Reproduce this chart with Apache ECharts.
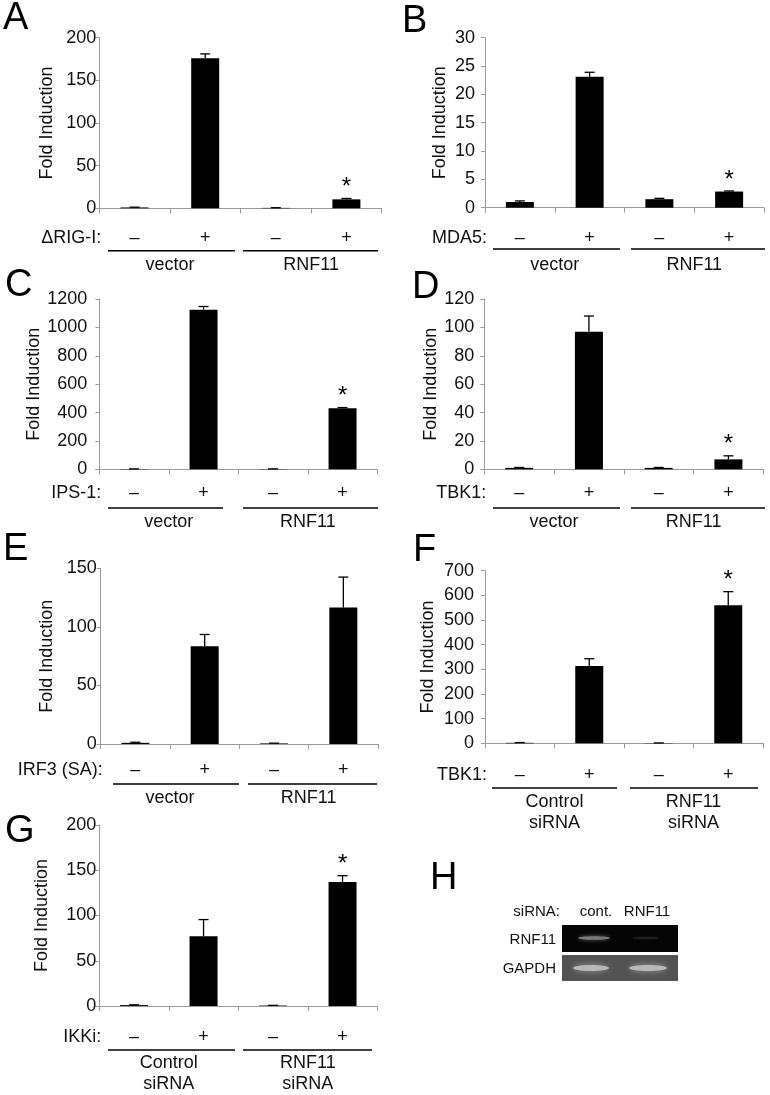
<!DOCTYPE html>
<html><head><meta charset="utf-8">
<script src="https://cdn.jsdelivr.net/npm/echarts@6/dist/echarts.min.js"></script>
<style>html,body{margin:0;padding:0;background:#fff}#c{width:770px;height:1095px}</style>
</head><body><div id="c"></div>
<script>
// ---------- data ----------
const conditionTicks = ["–", "+", "–", "+"];
const groupsVector = ["vector", "RNF11"];
const groupsSiRNA = ["Control\nsiRNA", "RNF11\nsiRNA"];
const yTitle = "Fold Induction";

const panelLetters = ["A", "B", "C", "D", "E", "F", "G"];
const treatmentLabels = ["ΔRIG-I:", "MDA5:", "IPS-1:", "TBK1:", "IRF3 (SA):", "TBK1:", "IKKi:"];

const aValues = [1, 176, 0.5, 10.5];   const aErrors = [0.3, 5, 0.2, 1];     const aSig = [0, 0, 0, 1];
const bValues = [1.0, 23.1, 1.5, 2.85]; const bErrors = [0.2, 0.8, 0.15, 0.1]; const bSig = [0, 0, 0, 1];
const cValues = [2, 1125, 2, 430];     const cErrors = [1, 22, 1, 5];        const cSig = [0, 0, 0, 1];
const dValues = [1, 97, 1, 7];         const dErrors = [0.3, 11, 0.3, 2.5];  const dSig = [0, 0, 0, 1];
const eValues = [1, 83.5, 0.5, 116.5]; const eErrors = [0.5, 10, 0.2, 26];   const eSig = [0, 0, 0, 0];
const fValues = [2, 313, 1, 560];      const fErrors = [1, 30, 0.5, 55];     const fSig = [0, 0, 0, 1];
const gValues = [1, 77, 0.5, 137];     const gErrors = [0.3, 18.5, 0.2, 7];  const gSig = [0, 0, 0, 1];

const yMaxes = [200, 30, 1200, 120, 150, 700, 200];
const ySteps = [50, 5, 200, 20, 50, 100, 50];

const gelLanes = ["cont.", "RNF11"];
const gelRows = ["RNF11", "GAPDH"];

// ---------- layout (positions/styles) ----------
const FONT = "'Liberation Sans', Arial, Helvetica, sans-serif";
const TXT = '#111';
const AXC = '#9a9a9a';
const FS = 18;
const layout = [
  {left: 99.3, top: 37.7, width: 282.4, height: 170.6, ylm: 3,  nameGap: 43,   tick: 29.7, grp: 56.7, lineY: 42.4, lines: [[108, 235], [243, 378]], letter: [3, 19], groups: groupsVector},
  {left: 485,  top: 37.7, width: 279,   height: 170,   ylm: 10, nameGap: 36,   tick: 30.3, grp: 57.3, lineY: 41.3, lines: [[493, 620], [631, 765]], letter: [402, 22], groups: groupsVector},
  {left: 99.3, top: 299,  width: 278,   height: 170.3, ylm: 12, nameGap: 53.5, tick: 24,   grp: 52.4, lineY: 38.7, lines: [[108, 223], [243, 378]], letter: [5, 286], groups: groupsVector},
  {left: 484.3,top: 299,  width: 279,   height: 170.3, ylm: 10, nameGap: 37,   tick: 24,   grp: 52.4, lineY: 38.7, lines: [[493, 620], [631, 765]], letter: [412, 288], groups: groupsVector},
  {left: 100.7,top: 568.3,width: 277.3, height: 175.7, ylm: 4,  nameGap: 45,   tick: 26,   grp: 54,   lineY: 40,   lines: [[113, 239], [248, 377]], letter: [3, 550], groups: groupsVector},
  {left: 485,  top: 570.7,width: 278,   height: 172.6, ylm: 11, nameGap: 47.5, tick: 31.7, grp: 59,   lineY: 44.7, lines: [[492, 617], [630, 758]], letter: [413, 551], groups: groupsSiRNA},
  {left: 99.3, top: 825,  width: 278,   height: 181,   ylm: 3,  nameGap: 48.5, tick: 30.7, grp: 57.3, lineY: 44,   lines: [[108, 235], [243, 372]], letter: [5, 832], groups: groupsSiRNA}
];

const panels = [
  [aValues, aErrors, aSig], [bValues, bErrors, bSig], [cValues, cErrors, cSig],
  [dValues, dErrors, dSig], [eValues, eErrors, eSig], [fValues, fErrors, fSig],
  [gValues, gErrors, gSig]
];

const grid = [], xAxis = [], yAxis = [], series = [], graphic = [];

function errRender(params, api) {
  const i = api.value(0), v = api.value(1), e = api.value(2), s = api.value(3);
  const b = api.coord([i, v]);
  const t = api.coord([i, v + e]);
  const ch = [
    {type: 'line', shape: {x1: b[0], y1: b[1], x2: t[0], y2: t[1]}, style: {stroke: '#000', lineWidth: 1.3}},
    {type: 'line', shape: {x1: t[0] - 5, y1: t[1], x2: t[0] + 5, y2: t[1]}, style: {stroke: '#000', lineWidth: 1.3}}
  ];
  if (s) ch.push({type: 'text', x: t[0], y: t[1] - 11, style: {text: '*', fontSize: 24, fontFamily: FONT, fill: '#000', align: 'center', verticalAlign: 'middle'}});
  return {type: 'group', children: ch};
}

panels.forEach((p, k) => {
  const L = layout[k];
  const [vals, errs, sig] = p;
  grid.push({left: L.left, top: L.top, width: L.width, height: L.height, containLabel: false});
  xAxis.push({
    type: 'category', gridIndex: k, data: conditionTicks, position: 'bottom',
    axisLine: {lineStyle: {color: AXC, width: 1}},
    axisTick: {show: true, length: 5, lineStyle: {color: AXC}},
    axisLabel: {interval: 0, margin: L.tick - 10, lineHeight: 20, fontSize: FS, color: TXT, fontFamily: FONT},
    splitLine: {show: false}
  });
  xAxis.push({
    type: 'category', gridIndex: k, data: L.groups, position: 'bottom', offset: 0,
    axisLine: {show: false}, axisTick: {show: false},
    axisLabel: {interval: 0, margin: L.grp - 10.5, lineHeight: 21, fontSize: FS, color: TXT, fontFamily: FONT},
    splitLine: {show: false}
  });
  yAxis.push({
    type: 'value', gridIndex: k, min: 0, max: yMaxes[k], interval: ySteps[k],
    name: yTitle, nameLocation: 'middle', nameGap: L.nameGap,
    nameTextStyle: {fontSize: FS, color: TXT, fontFamily: FONT},
    axisLine: {show: true, lineStyle: {color: AXC, width: 1}},
    axisTick: {show: true, length: 4, lineStyle: {color: AXC}},
    axisLabel: {margin: L.ylm, fontSize: FS, color: TXT, fontFamily: FONT, formatter: v => String(v)},
    splitLine: {show: false}
  });
  series.push({
    type: 'bar', xAxisIndex: 2 * k, yAxisIndex: k, data: vals, barWidth: 28,
    itemStyle: {color: '#000'}, silent: true, animation: false
  });
  series.push({
    type: 'custom', xAxisIndex: 2 * k, yAxisIndex: k, renderItem: errRender,
    encode: {x: 0, y: 1}, z: 5, silent: true, animation: false,
    data: vals.map((v, i) => [i, v, errs[i], sig[i]])
  });
  const axisY = L.top + L.height;
  graphic.push({type: 'text', x: L.left + 2, y: axisY + L.tick, silent: true,
    style: {text: treatmentLabels[k], fontSize: FS, fontFamily: FONT, fill: TXT, align: 'right', verticalAlign: 'middle'}});
  L.lines.forEach(seg => graphic.push({type: 'line', silent: true,
    shape: {x1: seg[0], y1: axisY + L.lineY, x2: seg[1], y2: axisY + L.lineY},
    style: {stroke: '#000', lineWidth: 1.4}}));
  graphic.push({type: 'text', x: L.letter[0], y: L.letter[1], silent: true,
    style: {text: panelLetters[k], fontSize: 38, fontFamily: FONT, fill: '#000', align: 'left', verticalAlign: 'middle'}});
});

// ---------- panel H (gel image, decorative) ----------
graphic.push({type: 'text', x: 430, y: 879, silent: true, style: {text: 'H', fontSize: 38, fontFamily: FONT, fill: '#000', align: 'left', verticalAlign: 'middle'}});
graphic.push({type: 'text', x: 560, y: 912, silent: true, style: {text: 'siRNA:', fontSize: 15, fontFamily: FONT, fill: TXT, align: 'right', verticalAlign: 'middle'}});
graphic.push({type: 'text', x: 596, y: 912, silent: true, style: {text: gelLanes[0], fontSize: 15, fontFamily: FONT, fill: TXT, align: 'center', verticalAlign: 'middle'}});
graphic.push({type: 'text', x: 647, y: 912, silent: true, style: {text: gelLanes[1], fontSize: 15, fontFamily: FONT, fill: TXT, align: 'center', verticalAlign: 'middle'}});
graphic.push({type: 'text', x: 556, y: 940, silent: true, style: {text: gelRows[0], fontSize: 15, fontFamily: FONT, fill: TXT, align: 'right', verticalAlign: 'middle'}});
graphic.push({type: 'text', x: 556, y: 969, silent: true, style: {text: gelRows[1], fontSize: 15, fontFamily: FONT, fill: TXT, align: 'right', verticalAlign: 'middle'}});
graphic.push({type: 'rect', silent: true, shape: {x: 562, y: 925, width: 116, height: 27}, style: {fill: '#050505'}});
graphic.push({type: 'rect', silent: true, shape: {x: 562, y: 955, width: 116, height: 26}, style: {fill: '#525252'}});
graphic.push({type: 'ellipse', silent: true, shape: {cx: 594, cy: 938, rx: 16, ry: 1.8}, style: {fill: '#7a7a7a', shadowBlur: 4, shadowColor: '#666'}});
graphic.push({type: 'ellipse', silent: true, shape: {cx: 646, cy: 938, rx: 13, ry: 0.8}, style: {fill: '#262626', shadowBlur: 2, shadowColor: '#222'}});
graphic.push({type: 'ellipse', silent: true, shape: {cx: 591, cy: 968, rx: 18, ry: 3}, style: {fill: '#b8b8b8', shadowBlur: 6, shadowColor: '#999'}});
graphic.push({type: 'ellipse', silent: true, shape: {cx: 648, cy: 968, rx: 19, ry: 3}, style: {fill: '#b8b8b8', shadowBlur: 6, shadowColor: '#999'}});

const chart = echarts.init(document.getElementById('c'), null, {renderer: 'canvas'});
chart.setOption({animation: false, backgroundColor: '#fff', grid, xAxis, yAxis, series, graphic});
</script>
</body></html>
